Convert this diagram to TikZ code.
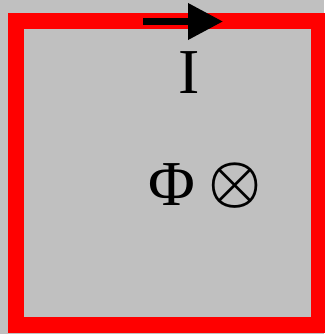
\documentclass[tikz,border=0pt]{standalone}
\usepackage{fontspec}
\setmainfont{Liberation Serif}
\usetikzlibrary{arrows.meta}
\definecolor{bggray}{RGB}{192,192,192}
\newcommand{\boldotimes}{\mbox{\boldmath$\otimes$}}
\begin{document}
\begin{tikzpicture}[x=1pt,y=-1pt,
  lbl/.style={inner sep=0pt,font=\fontsize{64}{64}\selectfont},
  loop/.style={draw=red,line width=16pt,miter limit=10},
  current/.style={line width=7pt,-{Triangle[length=35pt,width=35pt]}}]
\fill[bggray] (0,0) rectangle (324,334);
\useasboundingbox (0,0) rectangle (324,334);
\draw[loop] (15.5,21.5) rectangle (319,325.3);
\coordinate (a0) at (143,21.5);
\coordinate (a1) at (223,21.5);
\draw[current] (a0) -- (a1);
\node[lbl] (I) at (189.5,73) {I};
\node[lbl] (Phi) at (171.5,184.7) {Φ};
\node[inner sep=0pt,scale=5.95] (flux) at (235.5,185.5) {\boldotimes};
\end{tikzpicture}
\end{document}
